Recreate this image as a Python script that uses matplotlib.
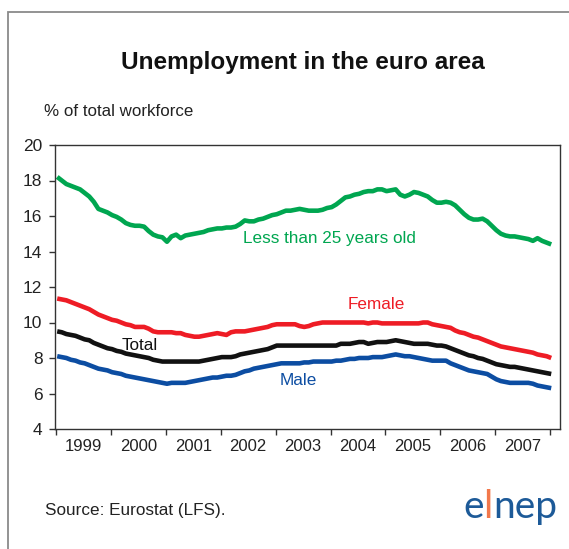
import numpy as np
import matplotlib
matplotlib.use("Agg")
import matplotlib.pyplot as plt
from matplotlib.patches import Rectangle

plt.rcParams['font.family'] = ['Liberation Sans', 'DejaVu Sans']

# Monthly unemployment rates, Jan 1999 onwards (% of total workforce)
under_25 = [
    18.2, 18.0, 17.8, 17.7, 17.6, 17.5, 17.3, 17.1, 16.8, 16.4, 16.3, 16.2,
    16.05, 15.95, 15.8, 15.6, 15.5, 15.45, 15.45, 15.4, 15.15, 14.95, 14.85, 14.8,
    14.55, 14.85, 14.95, 14.75, 14.9, 14.95, 15.0, 15.05, 15.1, 15.2, 15.25, 15.3,
    15.3, 15.35, 15.35, 15.4, 15.55, 15.75, 15.7, 15.7, 15.8, 15.85, 15.95, 16.05,
    16.1, 16.2, 16.3, 16.3, 16.35, 16.4, 16.35, 16.3, 16.3, 16.3, 16.35, 16.45,
    16.5, 16.65, 16.85, 17.05, 17.1, 17.2, 17.25, 17.35, 17.4, 17.4, 17.5, 17.5,
    17.4, 17.45, 17.5, 17.2, 17.1, 17.2, 17.35, 17.3, 17.2, 17.1, 16.9, 16.75,
    16.75, 16.8, 16.75, 16.6, 16.35, 16.1, 15.9, 15.8, 15.8, 15.85, 15.7, 15.45,
    15.2, 15.0, 14.9, 14.85, 14.85, 14.8, 14.75, 14.7, 14.6, 14.75, 14.6, 14.5, 14.4,
]
female = [
    11.35, 11.3, 11.25, 11.15, 11.05, 10.95, 10.85, 10.75, 10.6, 10.45, 10.35, 10.25,
    10.15, 10.1, 10.0, 9.9, 9.85, 9.75, 9.75, 9.75, 9.65, 9.5, 9.45, 9.45,
    9.45, 9.45, 9.4, 9.4, 9.3, 9.25, 9.2, 9.2, 9.25, 9.3, 9.35, 9.4,
    9.35, 9.3, 9.45, 9.5, 9.5, 9.5, 9.55, 9.6, 9.65, 9.7, 9.75, 9.85,
    9.9, 9.9, 9.9, 9.9, 9.9, 9.8, 9.75, 9.8, 9.9, 9.95, 10.0, 10.0,
    10.0, 10.0, 10.0, 10.0, 10.0, 10.0, 10.0, 10.0, 9.95, 10.0, 10.0, 9.95,
    9.95, 9.95, 9.95, 9.95, 9.95, 9.95, 9.95, 9.95, 10.0, 10.0, 9.9, 9.85,
    9.8, 9.75, 9.7, 9.55, 9.45, 9.4, 9.3, 9.2, 9.15, 9.05, 8.95, 8.85,
    8.75, 8.65, 8.6, 8.55, 8.5, 8.45, 8.4, 8.35, 8.3, 8.2, 8.15, 8.1, 8.0,
]
total = [
    9.5, 9.45, 9.35, 9.3, 9.25, 9.15, 9.05, 9.0, 8.85, 8.75, 8.65, 8.55,
    8.5, 8.4, 8.35, 8.25, 8.2, 8.15, 8.1, 8.05, 8.0, 7.9, 7.85, 7.8,
    7.8, 7.8, 7.8, 7.8, 7.8, 7.8, 7.8, 7.8, 7.85, 7.9, 7.95, 8.0,
    8.05, 8.05, 8.05, 8.1, 8.2, 8.25, 8.3, 8.35, 8.4, 8.45, 8.5, 8.6,
    8.7, 8.7, 8.7, 8.7, 8.7, 8.7, 8.7, 8.7, 8.7, 8.7, 8.7, 8.7,
    8.7, 8.7, 8.8, 8.8, 8.8, 8.85, 8.9, 8.9, 8.8, 8.85, 8.9, 8.9,
    8.9, 8.95, 9.0, 8.95, 8.9, 8.85, 8.8, 8.8, 8.8, 8.8, 8.75, 8.7,
    8.7, 8.65, 8.55, 8.45, 8.35, 8.25, 8.15, 8.1, 8.0, 7.95, 7.85, 7.75,
    7.65, 7.6, 7.55, 7.5, 7.5, 7.45, 7.4, 7.35, 7.3, 7.25, 7.2, 7.15, 7.1,
]
male = [
    8.1, 8.05, 8.0, 7.9, 7.85, 7.75, 7.7, 7.6, 7.5, 7.4, 7.35, 7.3,
    7.2, 7.15, 7.1, 7.0, 6.95, 6.9, 6.85, 6.8, 6.75, 6.7, 6.65, 6.6,
    6.55, 6.6, 6.6, 6.6, 6.6, 6.65, 6.7, 6.75, 6.8, 6.85, 6.9, 6.9,
    6.95, 7.0, 7.0, 7.05, 7.15, 7.25, 7.3, 7.4, 7.45, 7.5, 7.55, 7.6,
    7.65, 7.7, 7.7, 7.7, 7.7, 7.7, 7.75, 7.75, 7.8, 7.8, 7.8, 7.8,
    7.8, 7.85, 7.85, 7.9, 7.95, 7.95, 8.0, 8.0, 8.0, 8.05, 8.05, 8.05,
    8.1, 8.15, 8.2, 8.15, 8.1, 8.1, 8.05, 8.0, 7.95, 7.9, 7.85, 7.85,
    7.85, 7.85, 7.7, 7.6, 7.5, 7.4, 7.3, 7.25, 7.2, 7.15, 7.1, 6.95,
    6.8, 6.7, 6.65, 6.6, 6.6, 6.6, 6.6, 6.6, 6.55, 6.45, 6.4, 6.35, 6.3,
]
years = [1999, 2000, 2001, 2002, 2003, 2004, 2005, 2006, 2007]
y_ticks = [4, 6, 8, 10, 12, 14, 16, 18, 20]

W, H = 569, 549
fig = plt.figure(figsize=(W / 100, H / 100), dpi=100)

# Outer frame of the panel
fig.add_artist(Rectangle((8 / W, -0.05), 1.2, 1 - 12 / H + 0.05,
                         transform=fig.transFigure, fill=False,
                         edgecolor='#8a8a8a', linewidth=1.3, clip_on=False))

ax = fig.add_axes([55 / W, (H - 429) / H, (560 - 55) / W, (429 - 145) / H])

t = 1999 + np.arange(len(total)) / 12 + 0.02
lw = 3.3
ax.plot(t, under_25, color='#00a650', lw=lw, solid_capstyle='butt')
ax.plot(t, female, color='#ee1c25', lw=lw, solid_capstyle='butt')
ax.plot(t, total, color='#111111', lw=lw, solid_capstyle='butt')
ax.plot(t, male, color='#0c4da2', lw=lw, solid_capstyle='butt')

ax.set_xlim(1999 - 0.02, 2008.18)
ax.set_ylim(4, 20)
ax.set_yticks(y_ticks)
ax.set_yticklabels([str(v) for v in y_ticks], fontsize=12.5, color='#222222')
ax.set_xticks(list(range(1999, 2009)))
ax.set_xticklabels([])
ax.set_xticks([y + 0.5 for y in years], minor=True)
ax.set_xticklabels([str(y) for y in years], minor=True, fontsize=12, color='#222222')
ax.tick_params(axis='x', which='major', direction='out', length=4, width=1, color='#333333')
ax.tick_params(axis='x', which='minor', length=0, pad=7)
ax.tick_params(axis='y', direction='out', length=4, width=1, color='#333333', pad=5)
for s in ax.spines.values():
    s.set_color('#333333')
    s.set_linewidth(1.0)

# Series labels
ax.text(2002.405, 14.76, 'Less than 25 years old', color='#00a650', fontsize=12.3, va='center')
ax.text(2004.83, 10.99, 'Female', color='#ee1c25', fontsize=12.3, va='center', ha='center')
ax.text(2000.20, 8.73, 'Total', color='#111111', fontsize=12.3, va='center')
ax.text(2003.08, 6.76, 'Male', color='#0c4da2', fontsize=12.3, va='center')

fig.text(303 / W, 1 - 62 / H, 'Unemployment in the euro area', fontsize=17.5,
         fontweight='bold', ha='center', va='center', color='#111111')
fig.text(44 / W, 1 - 111 / H, '% of total workforce', fontsize=12.2,
         ha='left', va='center', color='#222222')
fig.text(45 / W, 1 - 511 / H, 'Source: Eurostat (LFS).', fontsize=12.3,
         ha='left', va='center', color='#222222')

# Logo
logo_blue = '#1d5a98'
logo_orange = '#f2784b'
lx, ly = 463 / W, 1 - 507 / H
r = fig.canvas.get_renderer()
x = lx
for ch, col in [('e', logo_blue), ('l', logo_orange), ('nep', logo_blue)]:
    tx = fig.text(x, ly, ch, fontsize=28, color=col, ha='left', va='center',
                  family=['Lato', 'DejaVu Sans'])
    bb = tx.get_window_extent(renderer=r)
    x += bb.width / W

fig.savefig('out.png', dpi=100)
